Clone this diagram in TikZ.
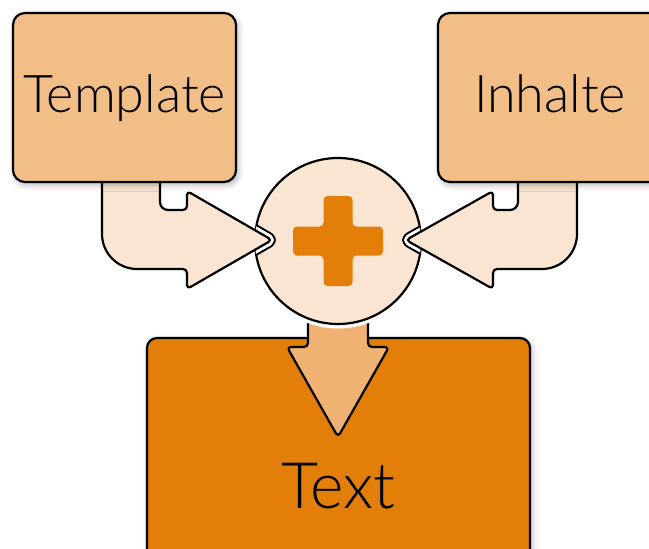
\documentclass[tikz,border=0pt]{standalone}
\usepackage{fontspec}
\setmainfont{Lato Light}
\usetikzlibrary{shadows.blur}

\definecolor{boxorange}{RGB}{242,190,135}
\definecolor{paleorange}{RGB}{250,229,210}
\definecolor{darkorange}{RGB}{227,126,9}
\definecolor{arroworange}{RGB}{240,178,115}

\tikzset{
  infobox/.style={draw=black, line width=2.2pt, rounded corners=12pt, fill=boxorange,
    minimum width=223pt, minimum height=169pt, text height=39pt, text depth=10pt,
    font=\fontsize{52}{60}\selectfont,
    blur shadow={shadow xshift=2pt, shadow yshift=-3pt, shadow blur radius=6pt, shadow opacity=30}},
  blockarrow/.style={draw=black, line width=2.2pt, line join=round},
  halo/.style={line width=#1, line join=round},
}

% bent arrows from the two upper boxes
\newcommand{\tplarrowpath}{(102,176) [rounded corners=35pt] -- (102,269) [rounded corners=4pt] -- (187,269) -- (187,289) -- (272,240) -- (187,191) -- (187,210) [rounded corners=8pt] -- (160,210) [rounded corners=2pt] -- (160,176) -- cycle}
\newcommand{\cntarrowpath}{(577,176) [rounded corners=35pt] -- (577,269) [rounded corners=4pt] -- (493,269) -- (493,289) -- (406,240) -- (493,191) -- (493,210) [rounded corners=8pt] -- (518,210) [rounded corners=2pt] -- (518,176) -- cycle}

\begin{document}
\begin{tikzpicture}[x=1pt, y=-1pt]
  \useasboundingbox (0,0) rectangle (649,549);

  \node[infobox, fill=darkorange, minimum width=383pt, minimum height=304pt, rounded corners=10pt,
    text height=48pt, text depth=12pt, font=\fontsize{64}{72}\selectfont] (result) at (338.5,490) {Text};

  % arrow into the result
  \draw[blockarrow, fill=arroworange, rounded corners=4pt] (308,300) -- (308,347) -- (287,347) -- (338,437) -- (389,347) -- (368,347) -- (368,300) -- cycle;

  \node[circle, draw=black, line width=2.2pt, fill=paleorange, minimum size=166pt, inner sep=0pt,
    preaction={draw=white, line width=9pt}] (merge) at (338,241) {};
  \fill[darkorange, rounded corners=4pt] (323.5,196) -- (352.5,196) -- (352.5,226.5) -- (383,226.5) -- (383,255.5) -- (352.5,255.5) -- (352.5,286) -- (323.5,286) -- (323.5,255.5) -- (293,255.5) -- (293,226.5) -- (323.5,226.5) -- cycle;

  % notches where the arrows enter the circle
  \begin{scope}
    \clip (merge.center) circle[radius=83];
    \draw[halo=12pt, black] \tplarrowpath;
    \draw[halo=8pt, white] \tplarrowpath;
    \draw[halo=12pt, black] \cntarrowpath;
    \draw[halo=8pt, white] \cntarrowpath;
  \end{scope}
  \draw[blockarrow, fill=paleorange] \tplarrowpath;
  \draw[blockarrow, fill=paleorange] \cntarrowpath;

  \node[infobox] (template) at (124.5,97.5) {Template};
  \node[infobox, minimum width=224pt] (content) at (550,97.5) {Inhalte};
\end{tikzpicture}
\end{document}
